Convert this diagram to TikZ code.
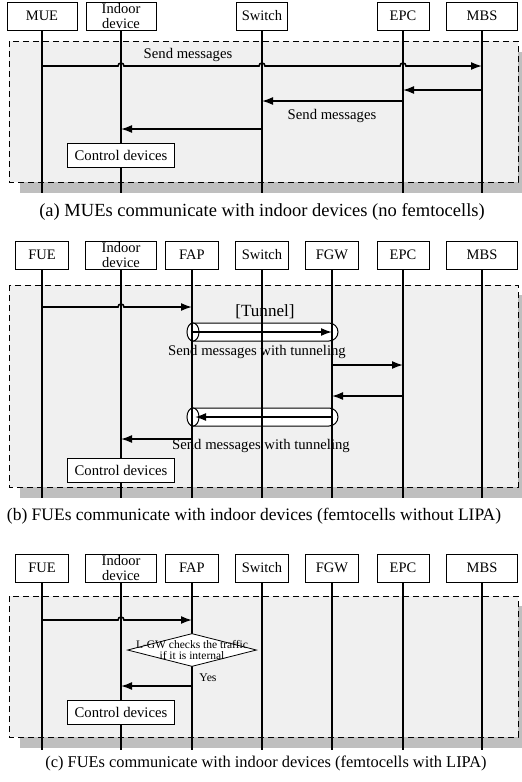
\documentclass[tikz,border=0pt]{standalone}
\usepackage{fontspec}
\setmainfont{Liberation Serif}
\usetikzlibrary{arrows.meta, calc, shapes.geometric}

\tikzset{
  actor/.style={draw, fill=white, line width=0.8pt, minimum height=28pt, inner sep=0.5pt, align=center, font=\fontsize{14.5}{14.5}\selectfont},
  life/.style={line width=1.2pt},
  msg/.style={line width=1.6pt, -{Latex[length=11pt,width=8pt]}},
  frame/.style={draw, dash pattern=on 6pt off 4pt, fill=black!6, line width=0.8pt},
  dropshade/.style={fill=black!25},
  ctrlbox/.style={draw, fill=white, line width=0.8pt, minimum width=107pt, minimum height=24pt, font=\fontsize{14.7}{16}\selectfont},
  lbl/.style={font=\fontsize{14.7}{16}\selectfont},
  caption/.style={inner sep=0pt},
  decision/.style={diamond, draw, fill=white, line width=0.8pt, minimum width=129pt, minimum height=33pt, inner sep=0pt},
  pipe/.style={draw, fill=white, line width=1pt}
}

\begin{document}
\begin{tikzpicture}[x=1pt, y=-1pt]
\useasboundingbox (0,0) rectangle (522,782);

% (a) no femtocells
\fill[dropshade] (20,52) rectangle (522,193);
\draw[frame] (9,41) rectangle (518,182);

\node[actor, minimum width=70pt] (mueA)    at (42,16)  {MUE};
\node[actor, minimum width=70pt] (indoorA) at (121,16) {Indoor\\device};
\node[actor, minimum width=51pt] (switchA) at (262,16) {Switch};
\node[actor, minimum width=52pt] (epcA)    at (403,16) {EPC};
\node[actor, minimum width=71pt] (mbsA)    at (482,16) {MBS};

\node[lbl] (sendA1) at (188,55)  {Send messages};
\node[lbl] (sendA2) at (332,116) {Send messages};

\foreach \n in {mueA,indoorA,switchA,epcA,mbsA}
  \draw[life] (\n.south) -- (\n |- 0,193);

\draw[msg] (mueA |- 0,66)
  -- ($(indoorA |- 0,66)+(-3pt,0)$) arc[start angle=180, end angle=0, radius=3pt]
  -- ($(switchA |- 0,66)+(-3pt,0)$) arc[start angle=180, end angle=0, radius=3pt]
  -- ($(epcA |- 0,66)+(-3pt,0)$) arc[start angle=180, end angle=0, radius=3pt]
  -- (mbsA |- 0,66);
\draw[msg] (mbsA |- 0,90)     -- (epcA |- 0,90);
\draw[msg] (epcA |- 0,101)    -- (switchA |- 0,101);
\draw[msg] (switchA |- 0,129) -- (indoorA |- 0,129);

\node[ctrlbox] (ctrlA) at (121,155) {Control devices};
\node[caption, font=\fontsize{18.5}{20}\selectfont] (capA) at (262,212) {(a) MUEs communicate with indoor devices (no femtocells)};

% (b) femtocells without LIPA
\fill[dropshade] (20,295) rectangle (522,498);
\draw[frame] (9,285) rectangle (518,487);

\node[actor, minimum width=53pt] (fueB)    at (42,255)  {FUE};
\node[actor, minimum width=71pt] (indoorB) at (121,255) {Indoor\\device};
\node[actor, minimum width=53pt] (fapB)    at (192,255) {FAP};
\node[actor, minimum width=53pt] (switchB) at (262,255) {Switch};
\node[actor, minimum width=53pt] (fgwB)    at (332,255) {FGW};
\node[actor, minimum width=52pt] (epcB)    at (403,255) {EPC};
\node[actor, minimum width=71pt] (mbsB)    at (482,255) {MBS};

% tunnels
\draw[pipe] (193,323) -- (329,323) arc[start angle=90, end angle=-90, radius=9pt] -- (193,341);
\draw[pipe] (193,332) ellipse[x radius=6pt, y radius=9pt];
\draw[pipe] (193,408) -- (329,408) arc[start angle=90, end angle=-90, radius=9pt] -- (193,426);
\draw[pipe] (193,417) ellipse[x radius=6pt, y radius=9pt];

\node[font=\fontsize{17.1}{19}\selectfont] (tunnelB) at (265,312) {[Tunnel]};
\node[lbl] (sendB1) at (257,352) {Send messages with tunneling};
\node[lbl] (sendB2) at (261,446) {Send messages with tunneling};

\foreach \n in {fueB,indoorB,fapB,switchB,fgwB,epcB,mbsB}
  \draw[life] (\n.south) -- (\n |- 0,498);

\draw[msg] (fueB |- 0,307)
  -- ($(indoorB |- 0,307)+(-3pt,0)$) arc[start angle=180, end angle=0, radius=3pt]
  -- (fapB |- 0,307);
\draw[msg] (fapB |- 0,332) -- (fgwB |- 0,332);
\draw[msg] (fgwB |- 0,365) -- (epcB |- 0,365);
\draw[msg] (epcB |- 0,396) -- (fgwB |- 0,396);
\draw[msg] (fgwB |- 0,417) -- ($(fapB |- 0,417)+(3pt,0)$);
\draw[msg] (fapB |- 0,439) -- (indoorB |- 0,439);

\node[ctrlbox] (ctrlB) at (121,470) {Control devices};
\node[caption, font=\fontsize{17.5}{19}\selectfont] (capB) at (254,516) {(b) FUEs communicate with indoor devices (femtocells without LIPA)};

% (c) femtocells with LIPA
\fill[dropshade] (20,606) rectangle (522,748);
\draw[frame] (9,596) rectangle (518,737);

\node[actor, minimum width=53pt] (fueC)    at (42,568)  {FUE};
\node[actor, minimum width=71pt] (indoorC) at (121,568) {Indoor\\device};
\node[actor, minimum width=53pt] (fapC)    at (192,568) {FAP};
\node[actor, minimum width=53pt] (switchC) at (262,568) {Switch};
\node[actor, minimum width=53pt] (fgwC)    at (332,568) {FGW};
\node[actor, minimum width=52pt] (epcC)    at (403,568) {EPC};
\node[actor, minimum width=71pt] (mbsC)    at (482,568) {MBS};

\foreach \n in {fueC,indoorC,fapC,switchC,fgwC,epcC,mbsC}
  \draw[life] (\n.south) -- (\n |- 0,750);

\draw[msg] (fueC |- 0,620)
  -- ($(indoorC |- 0,620)+(-3pt,0)$) arc[start angle=180, end angle=0, radius=3pt]
  -- (fapC |- 0,620);

\node[decision] (checkC) at (192,650) {};
\node[align=center, font=\fontsize{11.5}{10.5}\selectfont] (checkTxt) at (checkC) {L-GW checks the traffic\\if it is internal};
\node[font=\fontsize{11.8}{13}\selectfont] (yesC) at (208,678) {Yes};

\draw[msg] (fapC |- 0,686) -- (indoorC |- 0,686);

\node[ctrlbox] (ctrlC) at (121,712) {Control devices};
\node[caption, font=\fontsize{16.4}{18}\selectfont] (capC) at (266,763) {(c) FUEs communicate with indoor devices (femtocells with LIPA)};

\end{tikzpicture}
\end{document}
